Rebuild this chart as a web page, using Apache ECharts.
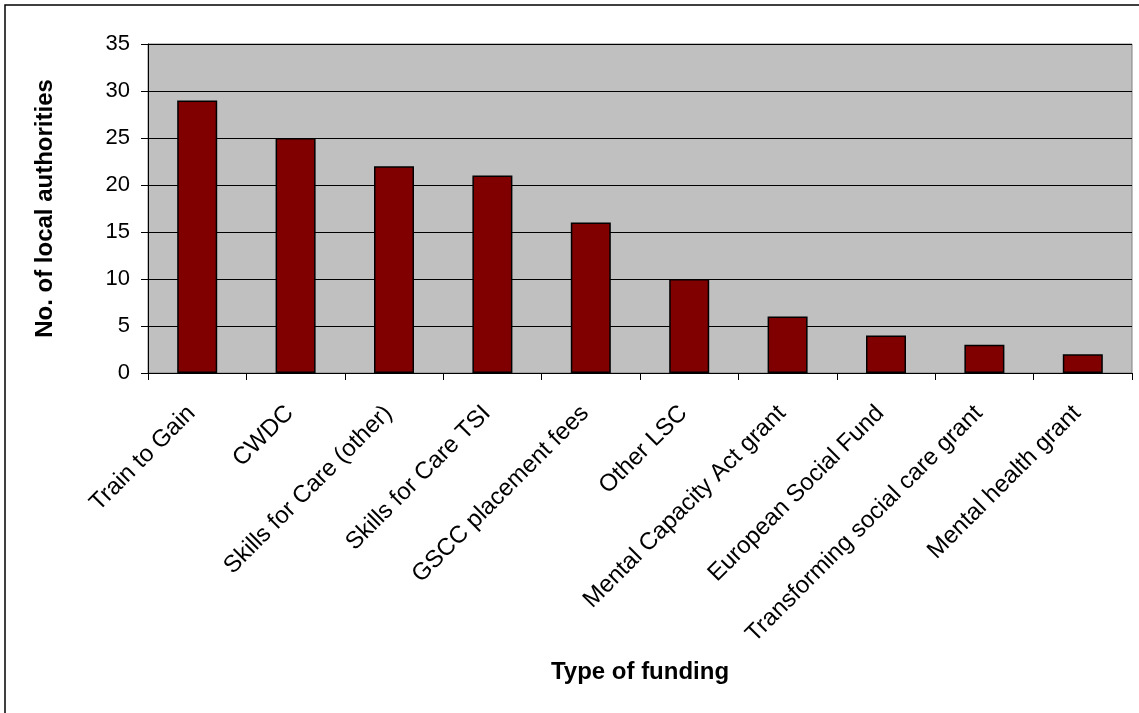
<!DOCTYPE html>
<html>
<head>
<meta charset="utf-8">
<script src="https://cdn.jsdelivr.net/npm/echarts@6/dist/echarts.min.js"></script>
<style>
html,body{margin:0;padding:0;background:#fff;}
#chart{width:1139px;height:713px;}
</style>
</head>
<body>
<div id="chart"></div>
<script>
var categories = ["Train to Gain", "CWDC", "Skills for Care (other)", "Skills for Care TSI", "GSCC placement fees", "Other LSC", "Mental Capacity Act grant", "European Social Fund", "Transforming social care grant", "Mental health grant"];
var values = [29, 25, 22, 21, 16, 10, 6, 4, 3, 2];
var yTicks = [0, 5, 10, 15, 20, 25, 30, 35];

var chart = echarts.init(document.getElementById('chart'), null, {renderer: 'canvas'});
var FONT = '"Liberation Sans", Arial, sans-serif';
chart.setOption({
  animation: false,
  backgroundColor: '#ffffff',
  graphic: [{
    type: 'rect',
    shape: {x: 5, y: 5, width: 1160, height: 730},
    style: {fill: 'none', stroke: '#000', lineWidth: 1.5},
    silent: true, z: -1
  }],
  grid: {
    left: 148, top: 44, right: 7, bottom: 340,
    show: true, backgroundColor: '#C0C0C0', borderColor: '#808080', borderWidth: 1
  },
  xAxis: {
    type: 'category',
    data: categories,
    name: 'Type of funding',
    nameLocation: 'middle',
    nameGap: 287,
    nameTextStyle: {fontFamily: FONT, fontSize: 24, fontWeight: 'bold', color: '#000'},
    axisLine: {lineStyle: {color: '#000', width: 1}},
    axisTick: {show: true, length: 7, lineStyle: {color: '#000'}},
    axisLabel: {rotate: 45, interval: 0, margin: 31, padding: [0, 8, 0, 0], fontFamily: FONT, fontSize: 24, color: '#000'}
  },
  yAxis: {
    type: 'value',
    min: yTicks[0], max: yTicks[yTicks.length - 1], interval: 5,
    name: 'No. of local authorities',
    nameLocation: 'middle',
    nameGap: 91,
    nameTextStyle: {fontFamily: FONT, fontSize: 24, fontWeight: 'bold', color: '#000'},
    axisLine: {show: true, lineStyle: {color: '#000', width: 1}},
    axisTick: {show: true, length: 7, lineStyle: {color: '#000'}},
    axisLabel: {margin: 18, fontFamily: FONT, fontSize: 22, color: '#000'},
    splitLine: {show: true, lineStyle: {color: '#000', width: 1}}
  },
  series: [{
    type: 'bar',
    data: values,
    barWidth: 40,
    itemStyle: {color: '#800000', borderColor: '#000', borderWidth: 1.5}
  }]
});
</script>
</body>
</html>
